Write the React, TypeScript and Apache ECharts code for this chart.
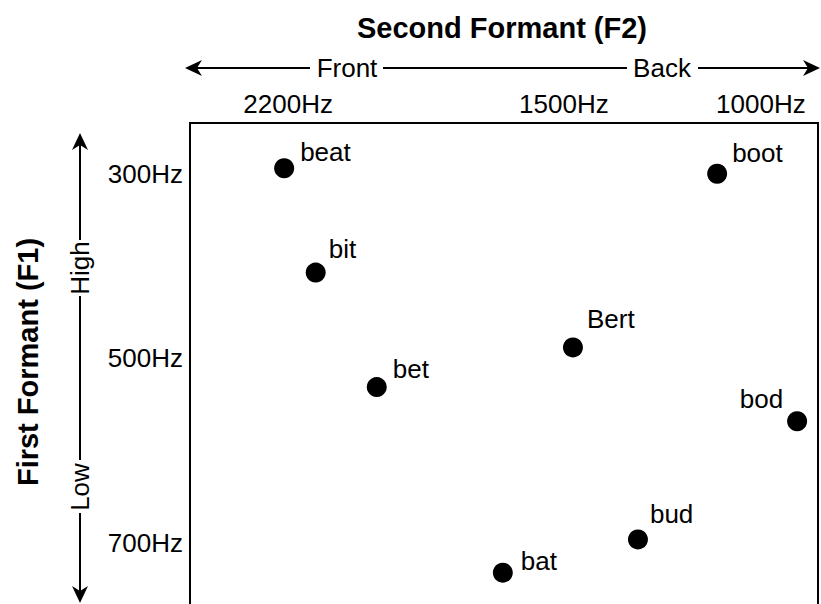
import React, { useEffect, useRef } from "react";
import * as echarts from "echarts";

const words = ["beat", "bit", "bet", "bat", "Bert", "bud", "bod", "boot"];
const f2Values = [2210, 2130, 1975, 1655, 1477, 1312, 908, 1111];
const f1Values = [294, 407, 531, 732, 488, 696, 568, 300];
const f2Ticks = [2200, 1500, 1000];
const f1Ticks = [300, 500, 700];

// label placement per word: [side, dx, dy]
const labelPlacement: Record<string, [string, number, number]> = {
  beat: ["right", 6, -16],
  bit: ["right", 3, -24],
  bet: ["right", 6, -18],
  bat: ["right", 8, -12],
  Bert: ["right", 4, -28],
  bud: ["right", 2, -25],
  bod: ["left", -4, -22],
  boot: ["right", 5, -21],
};

const FONT = "'Liberation Sans', Arial, Helvetica, sans-serif";

function arrowHead(tx: number, ty: number, dir: "left" | "right" | "up" | "down") {
  const L = 17, W = 8, N = 12;
  let pts: number[][];
  if (dir === "left") pts = [[tx, ty], [tx + L, ty - W], [tx + N, ty], [tx + L, ty + W]];
  else if (dir === "right") pts = [[tx, ty], [tx - L, ty - W], [tx - N, ty], [tx - L, ty + W]];
  else if (dir === "up") pts = [[tx, ty], [tx - W, ty + L], [tx, ty + N], [tx + W, ty + L]];
  else pts = [[tx, ty], [tx - W, ty - L], [tx, ty - N], [tx + W, ty - L]];
  return { type: "polygon", shape: { points: pts }, style: { fill: "#000" } };
}

function seg(x1: number, y1: number, x2: number, y2: number) {
  return { type: "line", shape: { x1, y1, x2, y2 }, style: { stroke: "#000", lineWidth: 2 } };
}

function txt(x: number, y: number, text: string, rotation = 0) {
  return {
    type: "text",
    x,
    y,
    rotation,
    style: { text, fill: "#000", font: `26px ${FONT}`, align: "center", verticalAlign: "middle" },
  };
}

export default function App() {
  const ref = useRef<HTMLDivElement>(null);
  useEffect(() => {
    if (!ref.current) return;
    const chart = echarts.init(ref.current, null, { renderer: "svg" });
    const data = words.map((w, i) => {
      const [side, dx, dy] = labelPlacement[w];
      return {
        name: w,
        value: [f2Values[i], f1Values[i]],
        label: { position: side, distance: 0, offset: [dx, dy] },
      };
    });
    chart.setOption({
      animation: false,
      backgroundColor: "#fff",
      title: {
        text: "Second Formant (F2)",
        left: 497,
        top: 8,
        textAlign: "center",
        textStyle: { fontFamily: FONT, fontWeight: "bold", fontSize: 29, color: "#000" },
      },
      grid: {
        left: 190,
        top: 123,
        right: 3,
        height: 494,
        show: true,
        borderColor: "#000",
        borderWidth: 2,
        backgroundColor: "transparent",
      },
      xAxis: {
        type: "value",
        position: "top",
        inverse: true,
        min: 855,
        max: 2449,
        axisLine: { show: false },
        axisTick: { show: false },
        splitLine: { show: false },
        axisLabel: {
          customValues: f2Ticks,
          formatter: (v: number) => `${v}Hz`,
          fontSize: 26,
          fontFamily: FONT,
          color: "#000",
          margin: 6,
        },
      },
      yAxis: {
        type: "value",
        inverse: true,
        min: 245,
        max: 780,
        axisLine: { show: false },
        axisTick: { show: false },
        splitLine: { show: false },
        axisLabel: {
          customValues: f1Ticks,
          formatter: (v: number) => `${v}Hz`,
          fontSize: 26,
          fontFamily: FONT,
          color: "#000",
          margin: 7,
        },
      },
      series: [
        {
          type: "scatter",
          symbol: "circle",
          symbolSize: 20,
          itemStyle: { color: "#000", opacity: 1 },
          label: {
            show: true,
            formatter: "{b}",
            fontSize: 26,
            fontFamily: FONT,
            color: "#000",
          },
          data,
        },
      ],
      graphic: [
        // horizontal Front/Back arrow
        seg(196, 68, 310, 68),
        seg(383, 68, 627, 68),
        seg(698, 68, 810, 68),
        arrowHead(185, 68, "left"),
        arrowHead(820, 68, "right"),
        txt(347, 68, "Front"),
        txt(662, 68, "Back"),
        // vertical High/Low arrow
        seg(80, 143, 80, 240),
        seg(80, 296, 80, 460),
        seg(80, 513, 80, 592),
        arrowHead(80, 133, "up"),
        arrowHead(80, 603, "down"),
        txt(80, 268, "High", Math.PI / 2),
        txt(80, 487, "Low", Math.PI / 2),
        // y title
        {
          type: "text",
          x: 28,
          y: 362,
          rotation: Math.PI / 2,
          style: {
            text: "First Formant (F1)",
            fill: "#000",
            font: `bold 29px ${FONT}`,
            align: "center",
            verticalAlign: "middle",
          },
        },
      ],
    });
    return () => chart.dispose();
  }, []);
  return (
    <div style={{ position: "fixed", left: 0, top: 0, width: 821, height: 604, overflow: "hidden" }}>
      <div ref={ref} style={{ width: 821, height: 640 }} />
    </div>
  );
}
